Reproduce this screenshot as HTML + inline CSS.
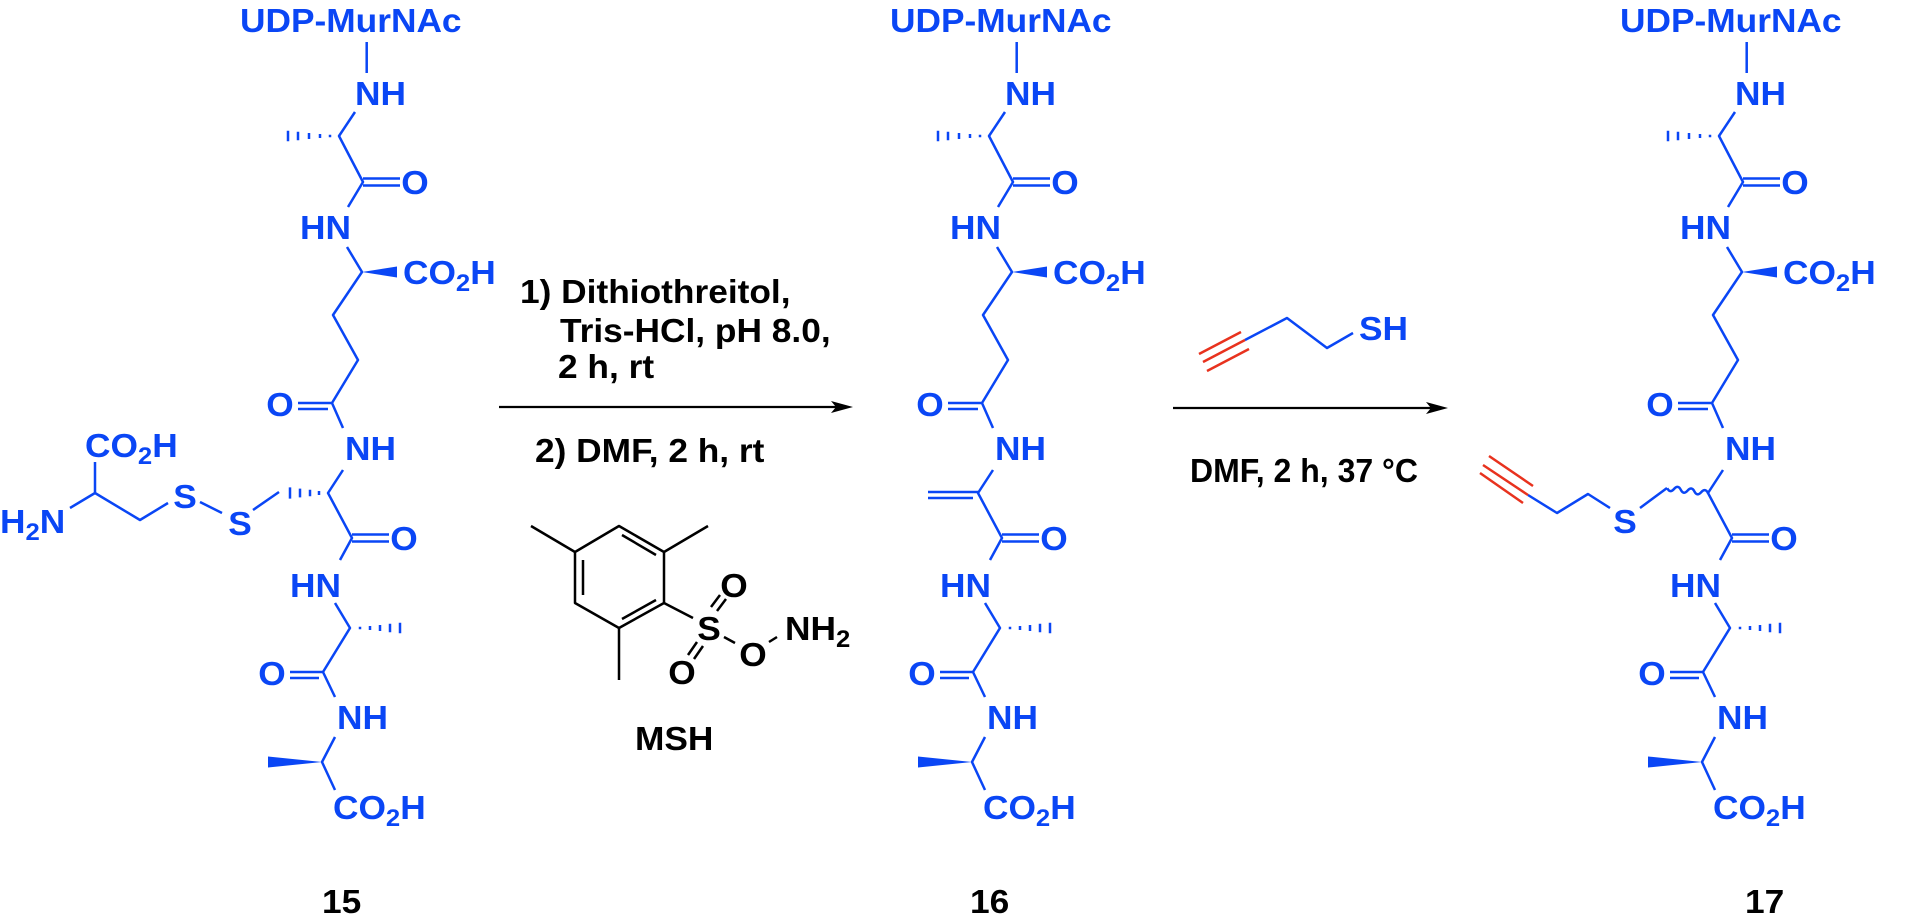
<!DOCTYPE html>
<html>
<head>
<meta charset="utf-8">
<style>
  html, body { margin: 0; padding: 0; background: #ffffff; }
  body { width: 1920px; height: 919px; overflow: hidden; }
  svg { display: block; }
  text { font-family: "Liberation Sans", Arial, sans-serif; font-weight: bold; font-size: 33px; }
  .b { fill: #0a46f5; }
  .k { fill: #000000; }
</style>
</head>
<body>
<svg width="1920" height="919" viewBox="0 0 1920 919" xmlns="http://www.w3.org/2000/svg">

<!-- ================= Structure 15 ================= -->
<g>
  <g fill="none" stroke="#0a46f5" stroke-width="2.5" stroke-linejoin="round">
    <path d="M366.7,42V73 M355,112L339,136L363,182L348,207 M347,247L362,272L333,315L358,360L332,403L343,428 M363,178.5H400 M363,185.5H400 M332,403H298 M328,409H298 M343,470L328,493L352,538L340,560 M352,534.5H389 M352,541.5H389 M335,603L350,628L323,672L335,697 M323,672H290 M319,678H290 M335,737L322,762L335,790"/>
    <path d="M330,134.8v2.4 M320,134v4 M309,133v6 M298,131.8v8.4 M288,130.8v10.4 M360,626.8v2.4 M370,626v4 M380,625v6 M390,623.8v8.4 M400,622.8v10.4"/>
  </g>
  <polygon class="b" points="362,272 397,266.5 397,277.5"/>
  <polygon class="b" points="322,762 268,756.5 268,767.5"/>
  <text class="b" transform="translate(240 32) scale(1.07 1)">UDP-MurNAc</text>
  <text class="b" transform="translate(355 105) scale(1.07 1)">NH</text>
  <text class="b" text-anchor="middle" transform="translate(415 194) scale(1.07 1)">O</text>
  <text class="b" transform="translate(300 239) scale(1.07 1)">HN</text>
  <text class="b" transform="translate(403 284) scale(1.07 1)">CO<tspan font-size="24" dy="7">2</tspan><tspan dy="-7">H</tspan></text>
  <text class="b" text-anchor="middle" transform="translate(280 416) scale(1.07 1)">O</text>
  <text class="b" transform="translate(345 460) scale(1.07 1)">NH</text>
  <text class="b" text-anchor="middle" transform="translate(404 550) scale(1.07 1)">O</text>
  <text class="b" transform="translate(290 597) scale(1.07 1)">HN</text>
  <text class="b" text-anchor="middle" transform="translate(272 685) scale(1.07 1)">O</text>
  <text class="b" transform="translate(337 729) scale(1.07 1)">NH</text>
  <text class="b" transform="translate(333 819) scale(1.07 1)">CO<tspan font-size="24" dy="7">2</tspan><tspan dy="-7">H</tspan></text>

  <!-- cystine side chain -->
  <g fill="none" stroke="#0a46f5" stroke-width="2.5" stroke-linejoin="round">
    <path d="M319,491v4 M310,489.8v6.4 M300,488.6v8.8 M290,487.4v11.2"/>
    <path d="M279,492L253,510 M222,513L200,502 M168,503L140,520L95,493V462 M95,493L70,508"/>
  </g>
  <text class="b" text-anchor="middle" transform="translate(240 535) scale(1.07 1)">S</text>
  <text class="b" text-anchor="middle" transform="translate(185 508) scale(1.07 1)">S</text>
  <text class="b" transform="translate(85 457) scale(1.07 1)">CO<tspan font-size="24" dy="7">2</tspan><tspan dy="-7">H</tspan></text>
  <text class="b" transform="translate(0 533) scale(1.07 1)">H<tspan font-size="24" dy="7">2</tspan><tspan dy="-7">N</tspan></text>
</g>

<!-- ================= Structure 16 ================= -->
<g transform="translate(650 0)">
  <g fill="none" stroke="#0a46f5" stroke-width="2.5" stroke-linejoin="round">
    <path d="M366.7,42V73 M355,112L339,136L363,182L348,207 M347,247L362,272L333,315L358,360L332,403L343,428 M363,178.5H400 M363,185.5H400 M332,403H298 M328,409H298 M343,470L328,493L352,538L340,560 M352,534.5H389 M352,541.5H389 M335,603L350,628L323,672L335,697 M323,672H290 M319,678H290 M335,737L322,762L335,790"/>
    <path d="M330,134.8v2.4 M320,134v4 M309,133v6 M298,131.8v8.4 M288,130.8v10.4 M360,626.8v2.4 M370,626v4 M380,625v6 M390,623.8v8.4 M400,622.8v10.4"/>
    <path d="M328,492H278 M323,498H278"/>
  </g>
  <polygon class="b" points="362,272 397,266.5 397,277.5"/>
  <polygon class="b" points="322,762 268,756.5 268,767.5"/>
  <text class="b" transform="translate(240 32) scale(1.07 1)">UDP-MurNAc</text>
  <text class="b" transform="translate(355 105) scale(1.07 1)">NH</text>
  <text class="b" text-anchor="middle" transform="translate(415 194) scale(1.07 1)">O</text>
  <text class="b" transform="translate(300 239) scale(1.07 1)">HN</text>
  <text class="b" transform="translate(403 284) scale(1.07 1)">CO<tspan font-size="24" dy="7">2</tspan><tspan dy="-7">H</tspan></text>
  <text class="b" text-anchor="middle" transform="translate(280 416) scale(1.07 1)">O</text>
  <text class="b" transform="translate(345 460) scale(1.07 1)">NH</text>
  <text class="b" text-anchor="middle" transform="translate(404 550) scale(1.07 1)">O</text>
  <text class="b" transform="translate(290 597) scale(1.07 1)">HN</text>
  <text class="b" text-anchor="middle" transform="translate(272 685) scale(1.07 1)">O</text>
  <text class="b" transform="translate(337 729) scale(1.07 1)">NH</text>
  <text class="b" transform="translate(333 819) scale(1.07 1)">CO<tspan font-size="24" dy="7">2</tspan><tspan dy="-7">H</tspan></text>
</g>

<!-- ================= Structure 17 ================= -->
<g transform="translate(1380 0)">
  <g fill="none" stroke="#0a46f5" stroke-width="2.5" stroke-linejoin="round">
    <path d="M366.7,42V73 M355,112L339,136L363,182L348,207 M347,247L362,272L333,315L358,360L332,403L343,428 M363,178.5H400 M363,185.5H400 M332,403H298 M328,409H298 M343,470L328,493L352,538L340,560 M352,534.5H389 M352,541.5H389 M335,603L350,628L323,672L335,697 M323,672H290 M319,678H290 M335,737L322,762L335,790"/>
    <path d="M330,134.8v2.4 M320,134v4 M309,133v6 M298,131.8v8.4 M288,130.8v10.4 M360,626.8v2.4 M370,626v4 M380,625v6 M390,623.8v8.4 M400,622.8v10.4"/>
  </g>
  <polygon class="b" points="362,272 397,266.5 397,277.5"/>
  <polygon class="b" points="322,762 268,756.5 268,767.5"/>
  <text class="b" transform="translate(240 32) scale(1.07 1)">UDP-MurNAc</text>
  <text class="b" transform="translate(355 105) scale(1.07 1)">NH</text>
  <text class="b" text-anchor="middle" transform="translate(415 194) scale(1.07 1)">O</text>
  <text class="b" transform="translate(300 239) scale(1.07 1)">HN</text>
  <text class="b" transform="translate(403 284) scale(1.07 1)">CO<tspan font-size="24" dy="7">2</tspan><tspan dy="-7">H</tspan></text>
  <text class="b" text-anchor="middle" transform="translate(280 416) scale(1.07 1)">O</text>
  <text class="b" transform="translate(345 460) scale(1.07 1)">NH</text>
  <text class="b" text-anchor="middle" transform="translate(404 550) scale(1.07 1)">O</text>
  <text class="b" transform="translate(290 597) scale(1.07 1)">HN</text>
  <text class="b" text-anchor="middle" transform="translate(272 685) scale(1.07 1)">O</text>
  <text class="b" transform="translate(337 729) scale(1.07 1)">NH</text>
  <text class="b" transform="translate(333 819) scale(1.07 1)">CO<tspan font-size="24" dy="7">2</tspan><tspan dy="-7">H</tspan></text>
</g>
<!-- 17 side chain (absolute) -->
<g fill="none" stroke="#0a46f5" stroke-width="2.5" stroke-linejoin="round">
  <path d="M1708,493 q-2.8,-5.4 -6.8,-0.8 t-6.8,-0.8 t-6.8,-0.8 t-6.8,-0.8 t-6.8,-0.8 t-6.8,-0.8"/>
  <path d="M1667,488L1640,508 M1610,508L1588,494L1557,513L1528,495"/>
</g>
<text class="b" text-anchor="middle" transform="translate(1625 533) scale(1.07 1)">S</text>
<g fill="none" stroke="#e8321e" stroke-width="2.5">
  <path d="M1489,456L1533,486 M1483,465L1528,495 M1480,473L1523,503"/>
</g>

<!-- ================= Arrows ================= -->
<g stroke="#000" stroke-width="2.2" fill="none">
  <path d="M499,407H842"/>
  <path d="M1173,408H1437"/>
</g>
<polygon class="k" points="853,407 831,401 836,407 831,413"/>
<polygon class="k" points="1448,408 1426,402 1431,408 1426,414"/>

<!-- step 1 conditions -->
<text class="k" transform="translate(520 303) scale(1.07 1)">1) Dithiothreitol,</text>
<text class="k" transform="translate(560 342) scale(1.07 1)">Tris-HCl, pH 8.0,</text>
<text class="k" transform="translate(558 378) scale(1.07 1)">2 h, rt</text>
<text class="k" transform="translate(535 462) scale(1.07 1)">2)  DMF, 2 h, rt</text>

<!-- MSH -->
<g fill="none" stroke="#000" stroke-width="2.5" stroke-linejoin="round">
  <path d="M619,526L664,552L664,603L619,628L575,603L575,552Z"/>
  <path d="M583,560V595 M622,535L656,555 M622,619L656,600"/>
  <path d="M575,552L531,526 M664,552L708,526 M619,628V680 M664,603L693,618"/>
  <path d="M711,607L720,595 M717,611L726,599"/>
  <path d="M697,642L688,655 M703,646L694,659"/>
  <path d="M724,637L735,643 M769,642L777,637"/>
</g>
<text class="k" text-anchor="middle" transform="translate(709 640) scale(1.07 1)">S</text>
<text class="k" text-anchor="middle" transform="translate(734 597) scale(1.07 1)">O</text>
<text class="k" text-anchor="middle" transform="translate(682 684) scale(1.07 1)">O</text>
<text class="k" text-anchor="middle" transform="translate(753 666) scale(1.07 1)">O</text>
<text class="k" transform="translate(785 640) scale(1.07 1)">NH<tspan font-size="24" dy="7">2</tspan></text>
<text class="k" transform="translate(635 750) scale(1.07 1)">MSH</text>

<!-- ================= step 2 reagents ================= -->
<g fill="none" stroke="#e8321e" stroke-width="2.5">
  <path d="M1199,354L1241,332 M1203,362L1245,340 M1207,371L1249,349"/>
</g>
<g fill="none" stroke="#0a46f5" stroke-width="2.5" stroke-linejoin="round">
  <path d="M1245,340L1287,318L1327,348L1353,333"/>
</g>
<text class="b" transform="translate(1359 340) scale(1.07 1)">SH</text>
<text class="k" transform="translate(1190 482) scale(0.97 1)">DMF, 2 h, 37 °C</text>

<!-- compound numbers -->
<text class="k" transform="translate(322 913) scale(1.07 1)">15</text>
<text class="k" transform="translate(970 913) scale(1.07 1)">16</text>
<text class="k" transform="translate(1745 913) scale(1.07 1)">17</text>

</svg>
</body>
</html>
